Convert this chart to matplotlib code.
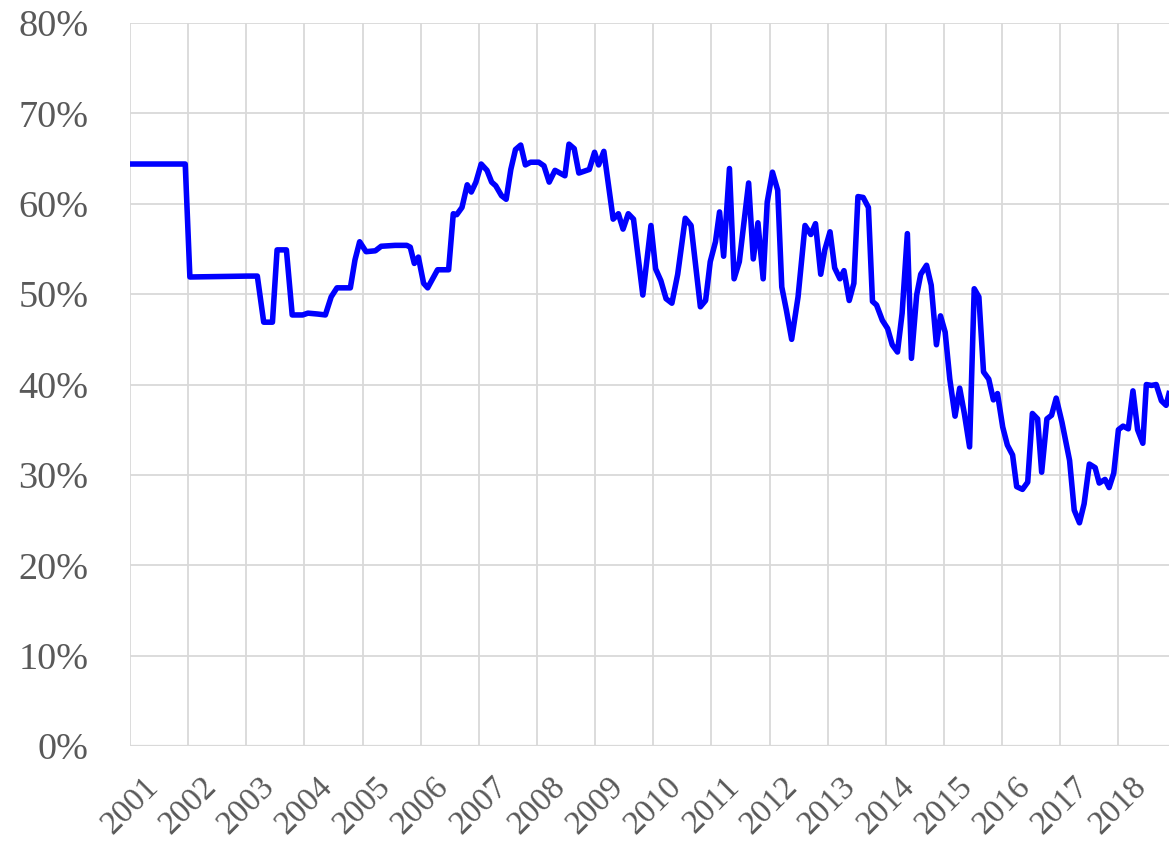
import matplotlib
matplotlib.use("Agg")
import matplotlib.pyplot as plt
import numpy as np

dates = [2001.00, 2001.95, 2002.03, 2003.02, 2003.19, 2003.30, 2003.45, 2003.53, 2003.69, 2003.79,
         2003.97, 2004.06, 2004.23, 2004.36, 2004.46, 2004.56, 2004.79, 2004.87, 2004.95, 2005.06,
         2005.22, 2005.32, 2005.56, 2005.76, 2005.82, 2005.89, 2005.96, 2006.05, 2006.12, 2006.29,
         2006.48, 2006.56, 2006.62, 2006.71, 2006.80, 2006.87, 2006.95, 2007.04, 2007.14, 2007.22,
         2007.29, 2007.39, 2007.47, 2007.55, 2007.63, 2007.72, 2007.80, 2007.89, 2008.03, 2008.12,
         2008.21, 2008.31, 2008.48, 2008.55, 2008.64, 2008.72, 2008.90, 2008.99, 2009.06, 2009.15,
         2009.31, 2009.40, 2009.48, 2009.57, 2009.66, 2009.82, 2009.96, 2010.04, 2010.13, 2010.22,
         2010.32, 2010.42, 2010.55, 2010.65, 2010.81, 2010.90, 2010.98, 2011.07, 2011.14, 2011.21,
         2011.31, 2011.39, 2011.48, 2011.64, 2011.72, 2011.80, 2011.89, 2011.96, 2012.05, 2012.14,
         2012.21, 2012.29, 2012.38, 2012.49, 2012.61, 2012.71, 2012.79, 2012.88, 2012.95, 2013.04,
         2013.12, 2013.21, 2013.28, 2013.37, 2013.45, 2013.52, 2013.61, 2013.70, 2013.77, 2013.84,
         2013.94, 2014.03, 2014.11, 2014.20, 2014.28, 2014.37, 2014.44, 2014.53, 2014.60, 2014.70,
         2014.78, 2014.87, 2014.94, 2015.02, 2015.10, 2015.19, 2015.27, 2015.35, 2015.44, 2015.52,
         2015.60, 2015.68, 2015.77, 2015.85, 2015.92, 2016.01, 2016.09, 2016.18, 2016.25, 2016.35,
         2016.44, 2016.52, 2016.61, 2016.68, 2016.77, 2016.85, 2016.93, 2017.03, 2017.16, 2017.24,
         2017.33, 2017.41, 2017.50, 2017.60, 2017.67, 2017.77, 2017.84, 2017.92, 2018.00, 2018.08,
         2018.17, 2018.25, 2018.33, 2018.42, 2018.48, 2018.57, 2018.65, 2018.74, 2018.82, 2018.87]

# share in percent
share = [64.4, 64.4, 51.9, 52.0, 52.0, 46.9, 46.9, 54.9, 54.9, 47.7,
         47.7, 47.9, 47.8, 47.7, 49.7, 50.7, 50.7, 53.8, 55.8, 54.7,
         54.8, 55.3, 55.4, 55.4, 55.2, 53.4, 54.1, 51.2, 50.7, 52.7,
         52.7, 58.9, 58.8, 59.6, 62.1, 61.3, 62.4, 64.4, 63.7, 62.4,
         62.0, 60.9, 60.5, 63.8, 66.0, 66.5, 64.3, 64.6, 64.6, 64.2,
         62.4, 63.7, 63.1, 66.6, 66.1, 63.4, 63.8, 65.7, 64.3, 65.8,
         58.3, 58.9, 57.2, 58.9, 58.3, 49.9, 57.6, 52.8, 51.5, 49.5,
         49.0, 52.2, 58.4, 57.6, 48.6, 49.3, 53.6, 55.8, 59.1, 54.2,
         63.9, 51.7, 53.6, 62.3, 53.9, 57.9, 51.7, 60.2, 63.5, 61.5,
         50.8, 48.2, 45.0, 49.7, 57.6, 56.6, 57.8, 52.2, 54.9, 56.9,
         52.9, 51.7, 52.6, 49.3, 51.2, 60.8, 60.7, 59.6, 49.2, 48.8,
         47.1, 46.2, 44.4, 43.6, 47.9, 56.7, 42.9, 49.9, 52.2, 53.2,
         51.0, 44.4, 47.6, 45.8, 40.6, 36.5, 39.6, 36.8, 33.1, 50.6,
         49.7, 41.4, 40.6, 38.3, 39.0, 35.3, 33.3, 32.2, 28.7, 28.4,
         29.2, 36.8, 36.2, 30.3, 36.2, 36.6, 38.5, 35.8, 31.6, 26.1,
         24.7, 26.8, 31.2, 30.8, 29.1, 29.5, 28.6, 30.2, 35.0, 35.4,
         35.1, 39.3, 35.0, 33.5, 40.0, 39.9, 40.0, 38.2, 37.7, 39.0]

years = list(range(2001, 2019))
pct_ticks = list(range(0, 81, 10))

grey = "#595959"
grid_col = "#d9d9d9"

plt.rcParams['font.family'] = ['Liberation Serif', 'DejaVu Serif']

fig = plt.figure(figsize=(11.69, 8.47), dpi=100)
ax = fig.add_axes([0.1112, 0.1192, 0.8888, 0.8536])

ax.plot(dates, share, color="#0000ff", lw=4.0, zorder=3)

ax.set_xlim(2001, 2018.87)
ax.set_ylim(0, 80)
ax.set_yticks(pct_ticks)
ax.set_yticklabels([str(p) + "%" for p in pct_ticks])
ax.set_xticks(years)
ax.set_xticklabels([str(y) for y in years], rotation=45, ha='center')

ax.grid(True, color=grid_col, lw=1.3, zorder=0)
ax.set_axisbelow(True)
for s in ax.spines.values():
    s.set_visible(False)
ax.axhline(0, color=grid_col, lw=1.6, zorder=1)

ax.tick_params(axis='y', length=0, pad=30, labelsize=27.5, labelcolor=grey)
ax.tick_params(axis='x', length=0, pad=18, labelsize=24, labelcolor=grey)

fig.savefig("out.png", dpi=100)
